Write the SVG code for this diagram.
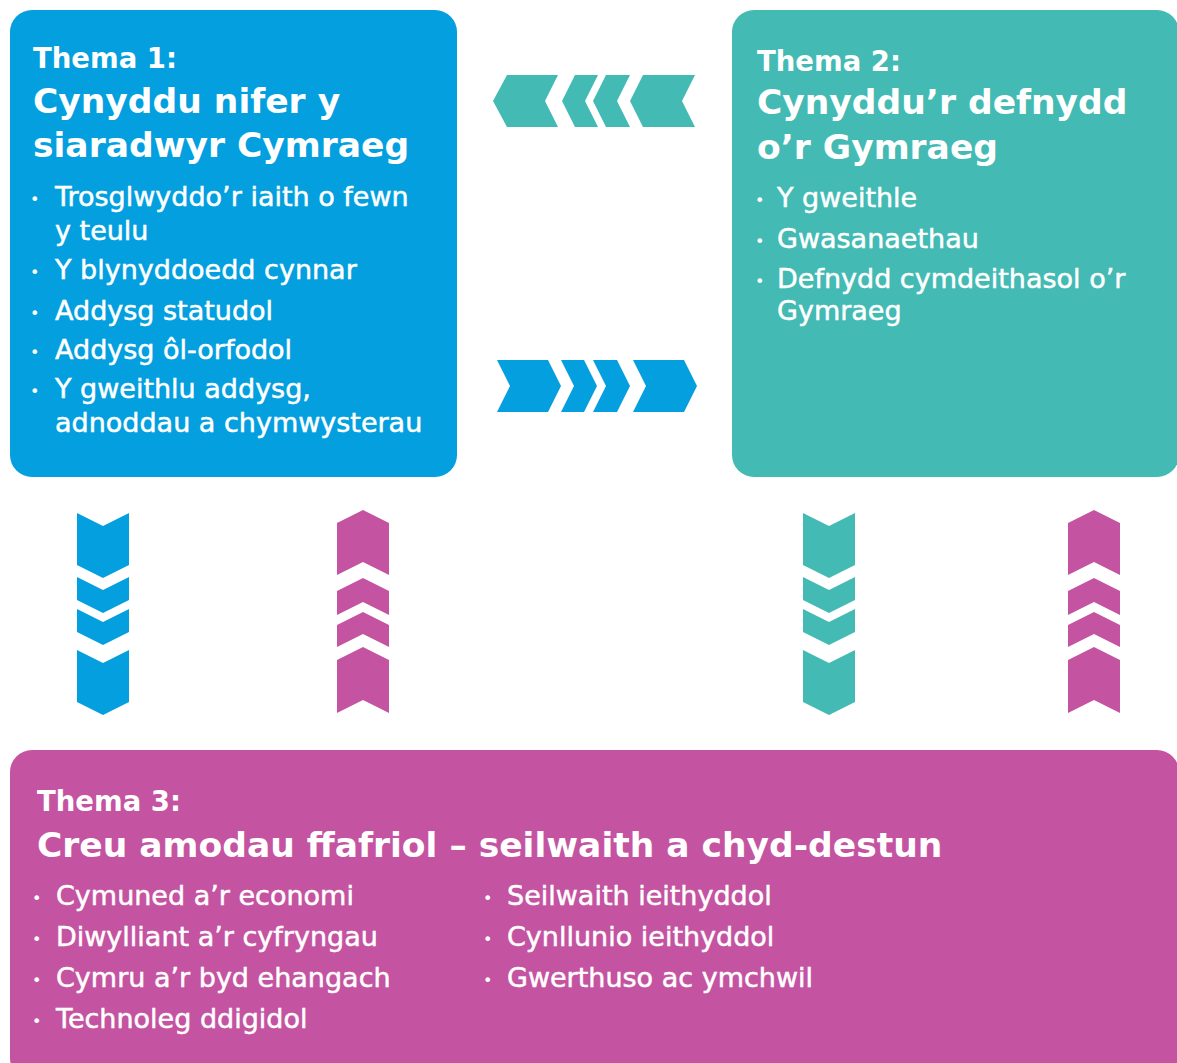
<svg xmlns="http://www.w3.org/2000/svg" xmlns:xlink="http://www.w3.org/1999/xlink" width="1177" height="1063" viewBox="0 0 1177 1063">
<style>
text{fill:#ffffff;font-family:"DejaVu Sans","Liberation Sans",sans-serif}
.th{font-weight:bold;font-size:27.5px}
.tt{font-weight:bold;font-size:34.5px}
.b{font-size:27px;stroke:#ffffff;stroke-width:0.5px}
.d{font-size:16px}
.blue{fill:#049FDF}
.teal{fill:#43BAB3}
.pink{fill:#C454A1}
</style>
<defs>
<g id="downSet">
<polygon points="-26,513 0,526 26,513 26,565 0,578 -26,565"/>
<polygon points="-26,577 0,590 26,577 26,600 0,613 -26,600"/>
<polygon points="-26,609 0,622 26,609 26,632 0,645 -26,632"/>
<polygon points="-26,650 0,663 26,650 26,702 0,715 -26,702"/>
</g>
<g id="upSet">
<polygon points="0,510 26,523 26,575 0,562 -26,575 -26,523"/>
<polygon points="0,578 26,591 26,615 0,602 -26,615 -26,591"/>
<polygon points="0,612 26,625 26,647 0,634 -26,647 -26,625"/>
<polygon points="0,647 26,660 26,713 0,700 -26,713 -26,660"/>
</g>
</defs>
<rect width="1177" height="1063" fill="#ffffff"/>

<g id="theme1">
<rect class="blue" x="10" y="10" width="447" height="467" rx="22"/>
<text class="th" x="33" y="68">Thema 1:</text>
<text class="tt" x="33" y="113">Cynyddu nifer y</text>
<text class="tt" x="33" y="157">siaradwyr Cymraeg</text>
<text class="d" x="30" y="205">•</text>
<text class="b" x="55" y="206">Trosglwyddo’r iaith o fewn</text>
<text class="b" x="55" y="240">y teulu</text>
<text class="d" x="30" y="278">•</text>
<text class="b" x="55" y="279">Y blynyddoedd cynnar</text>
<text class="d" x="30" y="319">•</text>
<text class="b" x="55" y="320">Addysg statudol</text>
<text class="d" x="30" y="358">•</text>
<text class="b" x="55" y="359">Addysg ôl-orfodol</text>
<text class="d" x="30" y="397">•</text>
<text class="b" x="55" y="398">Y gweithlu addysg,</text>
<text class="b" x="55" y="432">adnoddau a chymwysterau</text>
</g>

<g id="theme2">
<rect class="teal" x="732" y="10" width="447" height="467" rx="22"/>
<text class="th" x="757" y="71">Thema 2:</text>
<text class="tt" x="757" y="114">Cynyddu’r defnydd</text>
<text class="tt" x="757" y="159">o’r Gymraeg</text>
<text class="d" x="755" y="206">•</text>
<text class="b" x="777" y="207">Y gweithle</text>
<text class="d" x="755" y="247">•</text>
<text class="b" x="777" y="248">Gwasanaethau</text>
<text class="d" x="755" y="287">•</text>
<text class="b" x="777" y="288">Defnydd cymdeithasol o’r</text>
<text class="b" x="777" y="320">Gymraeg</text>
</g>

<g id="theme3">
<rect class="pink" x="10" y="750" width="1169" height="330" rx="22"/>
<text class="th" x="37" y="811">Thema 3:</text>
<text class="tt" x="37" y="857">Creu amodau ffafriol – seilwaith a chyd-destun</text>
<text class="d" x="32" y="904">•</text>
<text class="b" x="56" y="905">Cymuned a’r economi</text>
<text class="d" x="32" y="945">•</text>
<text class="b" x="56" y="946">Diwylliant a’r cyfryngau</text>
<text class="d" x="32" y="986">•</text>
<text class="b" x="56" y="987">Cymru a’r byd ehangach</text>
<text class="d" x="32" y="1027">•</text>
<text class="b" x="56" y="1028">Technoleg ddigidol</text>
<text class="d" x="483" y="904">•</text>
<text class="b" x="507" y="905">Seilwaith ieithyddol</text>
<text class="d" x="483" y="945">•</text>
<text class="b" x="507" y="946">Cynllunio ieithyddol</text>
<text class="d" x="483" y="986">•</text>
<text class="b" x="507" y="987">Gwerthuso ac ymchwil</text>
</g>

<g id="connectors">
<g id="arrows-2-to-1" class="teal">
<polygon points="493,101 507,75 558,75 545,101 558,127 507,127"/>
<polygon points="562,101 575,75 598,75 585,101 598,127 575,127"/>
<polygon points="593,101 606,75 630,75 617,101 630,127 606,127"/>
<polygon points="630,101 643,75 695,75 682,101 695,127 643,127"/>
</g>
<g id="arrows-1-to-2" class="blue">
<polygon points="497,360 548,360 561,386 548,412 497,412 510,386"/>
<polygon points="561,360 584,360 597,386 584,412 561,412 574,386"/>
<polygon points="593,360 617,360 630,386 617,412 593,412 606,386"/>
<polygon points="633,360 684,360 697,386 684,412 633,412 646,386"/>
</g>
<use xlink:href="#downSet" href="#downSet" transform="translate(103,0)" fill="#049FDF"/>
<use xlink:href="#upSet" href="#upSet" transform="translate(363,0)" fill="#C454A1"/>
<use xlink:href="#downSet" href="#downSet" transform="translate(829,0)" fill="#43BAB3"/>
<use xlink:href="#upSet" href="#upSet" transform="translate(1094,0)" fill="#C454A1"/>
</g>
</svg>
